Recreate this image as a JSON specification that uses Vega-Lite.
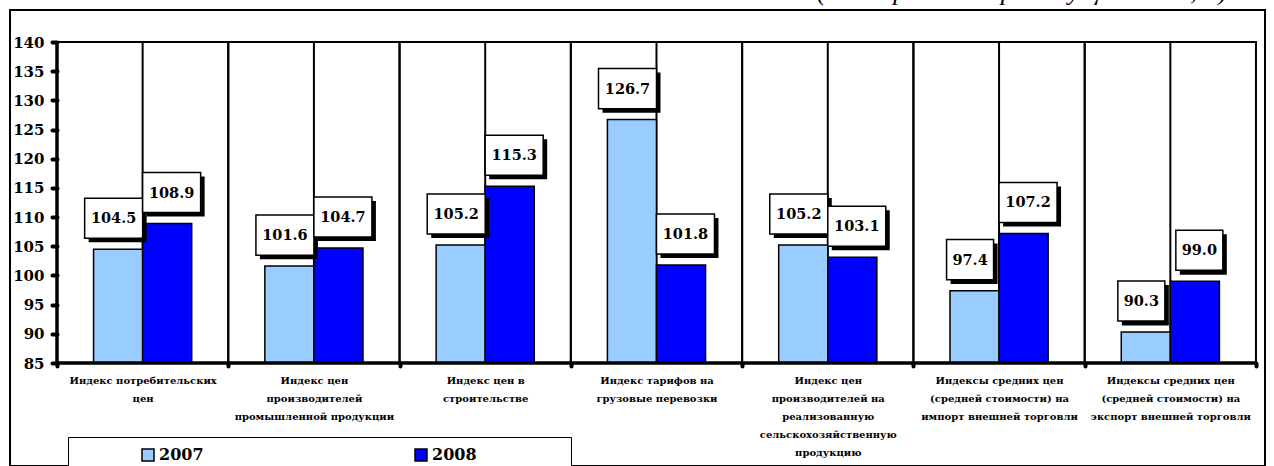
{
  "$schema": "https://vega.github.io/schema/vega-lite/v6.json",
  "width": 1255,
  "height": 456,
  "autosize": {"type": "none"},
  "padding": {"left": 10, "top": 10, "right": 9, "bottom": 0},
  "background": "white",
  "title": {
    "text": "(к январю-маю предыдущего года,%)",
    "anchor": "end",
    "frame": "group",
    "font": "Liberation Serif",
    "fontStyle": "italic",
    "fontWeight": "normal",
    "fontSize": 26,
    "color": "black",
    "offset": 3,
    "baseline": "alphabetic",
    "dx": -38,
    "dy": 19
  },
  "config": {
    "view": {"stroke": "black", "strokeWidth": 2}
  },
  "resolve": {"scale": {"xOffset": "independent"}},
  "data": {
    "values": [
      {"cat": "Индекс потребительских|цен", "year": "2007", "v": 104.5},
      {"cat": "Индекс потребительских|цен", "year": "2008", "v": 108.9},
      {"cat": "Индекс цен|производителей|промышленной продукции", "year": "2007", "v": 101.6},
      {"cat": "Индекс цен|производителей|промышленной продукции", "year": "2008", "v": 104.7},
      {"cat": "Индекс цен в|строительстве", "year": "2007", "v": 105.2},
      {"cat": "Индекс цен в|строительстве", "year": "2008", "v": 115.3},
      {"cat": "Индекс тарифов на|грузовые перевозки", "year": "2007", "v": 126.7},
      {"cat": "Индекс тарифов на|грузовые перевозки", "year": "2008", "v": 101.8},
      {"cat": "Индекс цен|производителей на|реализованную|сельскохозяйственную|продукцию", "year": "2007", "v": 105.2},
      {"cat": "Индекс цен|производителей на|реализованную|сельскохозяйственную|продукцию", "year": "2008", "v": 103.1},
      {"cat": "Индексы средних цен|(средней стоимости) на|импорт внешней торговли", "year": "2007", "v": 97.4},
      {"cat": "Индексы средних цен|(средней стоимости) на|импорт внешней торговли", "year": "2008", "v": 107.2},
      {"cat": "Индексы средних цен|(средней стоимости) на|экспорт внешней торговли", "year": "2007", "v": 90.3},
      {"cat": "Индексы средних цен|(средней стоимости) на|экспорт внешней торговли", "year": "2008", "v": 99.0}
    ]
  },
  "encoding": {
    "x": {
      "field": "cat",
      "type": "nominal",
      "sort": null,
      "scale": {
        "domain": [
          "Индекс потребительских|цен",
          "Индекс цен|производителей|промышленной продукции",
          "Индекс цен в|строительстве",
          "Индекс тарифов на|грузовые перевозки",
          "Индекс цен|производителей на|реализованную|сельскохозяйственную|продукцию",
          "Индексы средних цен|(средней стоимости) на|импорт внешней торговли",
          "Индексы средних цен|(средней стоимости) на|экспорт внешней торговли"
        ],
        "paddingInner": 0,
        "paddingOuter": 0.1635,
        "align": 0.839
      },
      "axis": {
        "title": null,
        "offset": -103,
        "domain": false,
        "grid": false,
        "tickBand": "extent",
        "ticks": true,
        "tickSize": 3,
        "tickWidth": 4,
        "tickCap": "round",
        "tickColor": "black",
        "labelAngle": 0,
        "labelPadding": 9,
        "labelBaseline": "top",
        "labelLineHeight": 18,
        "labelFont": "DejaVu Serif",
        "labelFontWeight": "bold",
        "labelFontSize": 10,
        "labelColor": "black",
        "labelLimit": 0,
        "labelOverlap": false,
        "labelExpr": "split(datum.label, '|')"
      }
    }
  },
  "layer": [
    {
      "transform": [{"filter": "datum.year == '2007'"}],
      "mark": {"type": "bar", "filled": false, "stroke": "black", "strokeWidth": 2},
      "encoding": {
        "y": {"datum": 140, "type": "quantitative"},
        "y2": {"datum": 85}
      }
    },
    {
      "transform": [{"filter": "datum.year == '2007'"}],
      "mark": {"type": "rule", "stroke": "black", "strokeWidth": 2},
      "encoding": {
        "y": {"datum": 140, "type": "quantitative"},
        "y2": {"datum": 85}
      }
    },
    {
      "mark": {"type": "bar", "stroke": "black", "strokeWidth": 1.5},
      "encoding": {
        "xOffset": {"field": "year", "type": "nominal", "scale": {"domain": ["2007", "2008"], "paddingInner": 0, "paddingOuter": 0.745}},
        "y": {
          "field": "v",
          "type": "quantitative",
          "scale": {"domain": [67.352, 145.483], "nice": false, "zero": false},
          "axis": {
            "title": null,
            "offset": -47,
            "values": [85, 90, 95, 100, 105, 110, 115, 120, 125, 130, 135, 140],
            "domain": false,
            "grid": false,
            "ticks": true,
            "tickSize": 5,
            "tickWidth": 4,
            "tickCap": "round",
            "tickColor": "black",
            "labelPadding": 8,
            "labelFont": "DejaVu Serif",
            "labelFontWeight": "bold",
            "labelFontSize": 15,
            "labelColor": "black"
          }
        },
        "y2": {"datum": 85},
        "color": {
          "field": "year",
          "type": "nominal",
          "scale": {"domain": ["2007", "2008"], "range": ["#99ccff", "#0000ff"]},
          "legend": {
            "title": " ",
            "titleOrient": "right",
            "titlePadding": 84,
            "orient": "none",
            "legendX": 58,
            "legendY": 427,
            "direction": "horizontal",
            "symbolType": "square",
            "symbolSize": 144,
            "symbolStrokeColor": "black",
            "symbolStrokeWidth": 1.5,
            "labelFont": "DejaVu Serif",
            "labelFontWeight": "bold",
            "labelFontSize": 16,
            "labelColor": "black",
            "labelOffset": 3,
            "columnPadding": 147,
            "padding": 10,
            "symbolOffset": 62,
            "strokeColor": "black",
            "fillColor": "white"
          }
        }
      }
    },
    {
      "transform": [{"filter": "datum.year == '2007' && datum.cat == 'Индекс потребительских|цен'"}],
      "mark": {"type": "rule", "stroke": "black", "strokeWidth": 3.5},
      "encoding": {
        "x": {"field": "cat", "type": "nominal", "sort": null, "bandPosition": 0},
        "y": {"datum": 140, "type": "quantitative"},
        "y2": {"datum": 85}
      }
    },
    {
      "transform": [{"filter": "datum.year == '2007'"}],
      "mark": {"type": "bar", "filled": false, "stroke": "black", "strokeWidth": 3.5},
      "encoding": {
        "y": {"datum": 85, "type": "quantitative"},
        "y2": {"datum": 85}
      }
    },
    {
      "mark": {"type": "point", "filled": true, "fill": "black", "strokeWidth": 0, "opacity": 1, "yOffset": -31},
      "encoding": {
        "xOffset": {"field": "year", "type": "nominal", "scale": {"domain": ["2007", "2008"], "padding": 0.977}},
        "y": {"field": "v", "type": "quantitative"},
        "size": {"condition": {"test": "datum.v < 100", "value": 2209}, "value": 3364},
        "shape": {"condition": {"test": "datum.v < 100", "value": "M-0.83,-0.682H1.17V1.042H-0.83Z"}, "value": "M-0.862,-0.552H1.138V0.828H-0.862Z"}
      }
    },
    {
      "mark": {"type": "point", "filled": true, "fill": "white", "stroke": "black", "strokeWidth": 1.5, "opacity": 1, "yOffset": -31},
      "encoding": {
        "xOffset": {"field": "year", "type": "nominal", "scale": {"domain": ["2007", "2008"], "padding": 0.977}},
        "y": {"field": "v", "type": "quantitative"},
        "size": {"condition": {"test": "datum.v < 100", "value": 2209}, "value": 3364},
        "shape": {"condition": {"test": "datum.v < 100", "value": "M-1,-0.852H1V0.852H-1Z"}, "value": "M-1,-0.69H1V0.69H-1Z"}
      }
    },
    {
      "mark": {"type": "text", "font": "DejaVu Serif", "fontWeight": "bold", "fontSize": 14.5, "color": "black", "baseline": "middle", "align": "center", "yOffset": -30},
      "encoding": {
        "xOffset": {"field": "year", "type": "nominal", "scale": {"domain": ["2007", "2008"], "padding": 0.977}},
        "y": {"field": "v", "type": "quantitative"},
        "text": {"field": "v", "type": "quantitative", "format": ".1f"}
      }
    }
  ]
}
